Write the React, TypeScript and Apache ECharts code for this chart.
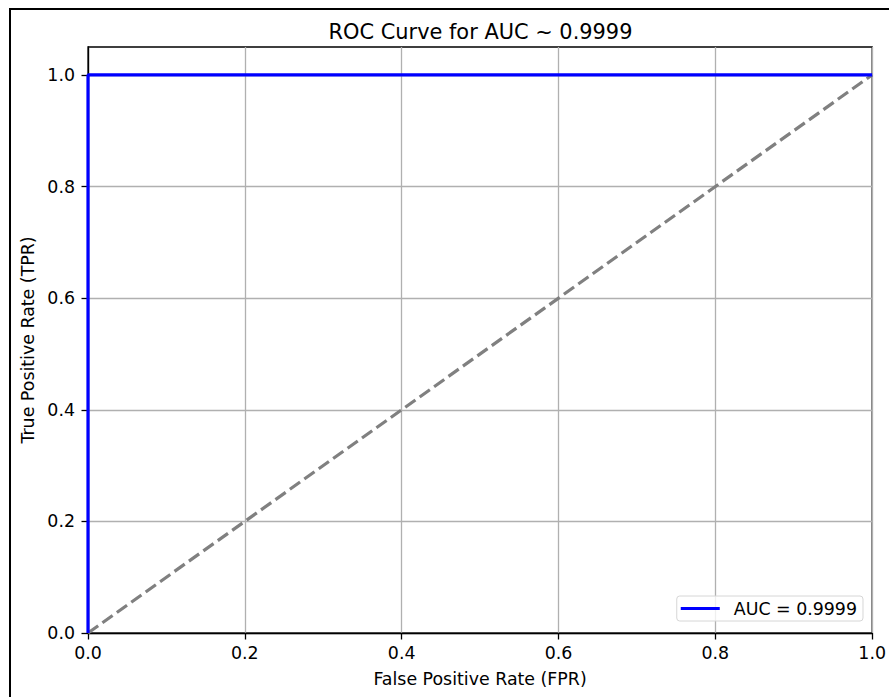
import React, { useEffect, useRef } from "react";
import * as echarts from "echarts";

const fpr = [0, 0, 1];
const tpr = [0, 1, 1];
const diagX = [0, 1];
const diagY = [0, 1];
const tickValues = [0, 0.2, 0.4, 0.6, 0.8, 1.0];
const titleText = "ROC Curve for AUC ~ 0.9999";
const legendName = "AUC = 0.9999";
const xName = "False Positive Rate (FPR)";
const yName = "True Positive Rate (TPR)";

const FONT = "DejaVu Sans";
const FS = 17.4;

export default function App() {
  const ref = useRef<HTMLDivElement>(null);
  useEffect(() => {
    document.body.style.margin = "0";
    const chart = echarts.init(ref.current!, null, { renderer: "svg" });
    const rocData = fpr.map((x, i) => [x, tpr[i]]);
    const diagData = diagX.map((x, i) => [x, diagY[i]]);
    chart.setOption({
      animation: false,
      backgroundColor: "#fff",
      textStyle: { fontFamily: FONT },
      title: {
        text: titleText,
        left: 480.5,
        textAlign: "center",
        top: 21,
        padding: 0,
        textStyle: { fontFamily: FONT, fontSize: 20.9, fontWeight: "normal", color: "#000" },
      },
      grid: {
        left: 88,
        right: 16,
        top: 47,
        bottom: 64,
        show: true,
        borderColor: "#000",
        borderWidth: 1.3,
        backgroundColor: "transparent",
      },
      legend: {
        data: [{ name: legendName, icon: "rect" }],
        right: 26,
        bottom: 76,
        orient: "vertical",
        itemWidth: 39,
        itemHeight: 3.2,
        padding: [4, 6, 4, 4],
        borderColor: "#d6d6d6",
        borderWidth: 1,
        borderRadius: 3,
        backgroundColor: "rgba(255,255,255,0.8)",
        textStyle: { fontFamily: FONT, fontSize: FS, color: "#000", padding: [0, 0, 0, 9] },
      },
      xAxis: {
        type: "value",
        min: 0,
        max: 1,
        interval: 0.2,
        name: xName,
        nameLocation: "middle",
        nameGap: 37,
        nameTextStyle: { fontFamily: FONT, fontSize: FS, color: "#000" },
        axisLine: { show: true, onZero: false, lineStyle: { color: "#000", width: 1.3 } },
        axisTick: { show: true, length: 6.5, lineStyle: { color: "#000", width: 1.3 } },
        axisLabel: {
          margin: 11,
          fontFamily: FONT,
          fontSize: FS,
          color: "#000",
          formatter: (v: number) => v.toFixed(1),
        },
        splitLine: { show: true, lineStyle: { color: "#b0b0b0", width: 1.3 } },
      },
      yAxis: {
        type: "value",
        min: 0,
        max: 1.05,
        interval: 0.2,
        name: yName,
        nameLocation: "middle",
        nameGap: 46,
        nameTextStyle: { fontFamily: FONT, fontSize: FS, color: "#000" },
        axisLine: { show: true, onZero: false, lineStyle: { color: "#000", width: 1.3 } },
        axisTick: {
          show: true,
          length: 6.5,
          customValues: tickValues,
          lineStyle: { color: "#000", width: 1.3 },
        },
        axisLabel: {
          margin: 13,
          fontFamily: FONT,
          fontSize: FS,
          color: "#000",
          customValues: tickValues,
          formatter: (v: number) => v.toFixed(1),
        },
        splitLine: { show: true, lineStyle: { color: "#b0b0b0", width: 1.3 } },
      },
      series: [
        {
          type: "line",
          name: "diag",
          data: diagData,
          symbol: "none",
          lineStyle: { color: "#808080", width: 3.2, type: [12.5, 5.2] },
          z: 3,
        },
        {
          type: "line",
          name: legendName,
          data: rocData,
          symbol: "none",
          lineStyle: { color: "#0000ff", width: 3.2 },
          itemStyle: { color: "#0000ff" },
          z: 4,
        },
      ],
      graphic: [
        { type: "line", shape: { x1: 10, y1: 8, x2: 10, y2: 697 }, style: { stroke: "#000", lineWidth: 2 } },
        { type: "line", shape: { x1: 9, y1: 9, x2: 889, y2: 9 }, style: { stroke: "#000", lineWidth: 2 } },
      ],
    });
    return () => chart.dispose();
  }, []);
  return <div ref={ref} style={{ position: "fixed", left: 0, top: 0, width: 889, height: 697 }} />;
}
